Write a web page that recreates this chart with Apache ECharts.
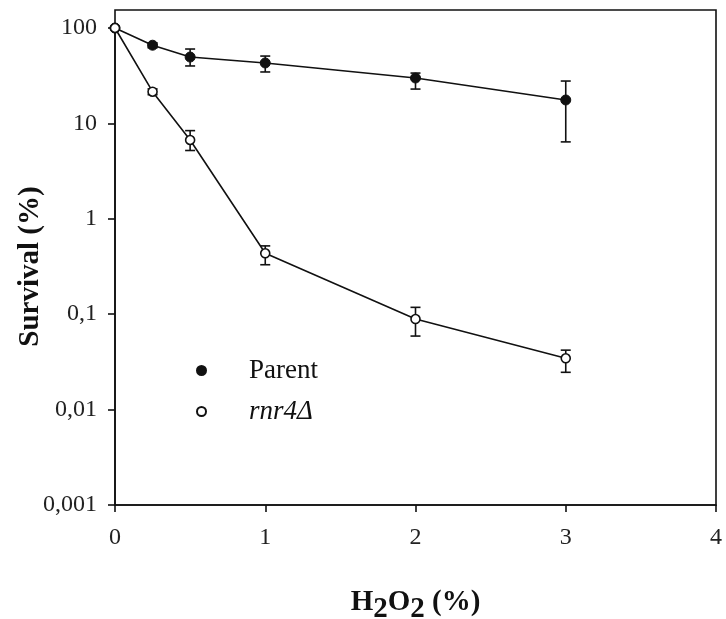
<!DOCTYPE html>
<html><head><meta charset="utf-8">
<script src="https://cdn.jsdelivr.net/npm/echarts@6/dist/echarts.min.js"></script>
<style>html,body{margin:0;padding:0;background:#fff}#c{width:726px;height:619px}</style>
</head><body><div id="c"></div>
<script>
var doses = [0, 0.25, 0.5, 1, 2, 3];
var parentMean = [100, 66, 49.6, 43, 29.9, 17.6];
var parentLow  = [100, 62, 40, 34.6, 22.9, 6.4];
var parentHigh = [100, 70, 60.2, 50.8, 33.7, 27.8];
var rnrMean = [100, 21.5, 6.7, 0.435, 0.089, 0.0345];
var rnrLow  = [100, 20, 5.2, 0.33, 0.059, 0.0246];
var rnrHigh = [100, 23, 8.4, 0.52, 0.118, 0.042];
var xTicks = [0, 1, 2, 3, 4];
var seriesNames = ['Parent', 'rnr4Δ'];

var FONT = '"Liberation Serif", "DejaVu Serif", serif';
function pts(m){ return doses.map(function(d,i){ return [d, m[i]]; }); }
function errs(lo, hi){ return doses.map(function(d,i){ return [d, lo[i], hi[i]]; }); }
function errRender(params, api){
  var x = api.value(0), lo = api.value(1), hi = api.value(2);
  if (lo === hi) return null;
  var pl = api.coord([x, lo]), ph = api.coord([x, hi]);
  var w = 5;
  var st = {stroke:'#111', lineWidth:1.6};
  return {type:'group', children:[
    {type:'line', shape:{x1:pl[0],y1:pl[1],x2:ph[0],y2:ph[1]}, style:st},
    {type:'line', shape:{x1:pl[0]-w,y1:pl[1],x2:pl[0]+w,y2:pl[1]}, style:st},
    {type:'line', shape:{x1:ph[0]-w,y1:ph[1],x2:ph[0]+w,y2:ph[1]}, style:st}
  ]};
}
var chart = echarts.init(document.getElementById('c'));
chart.setOption({
  backgroundColor:'#fff',
  animation:false,
  grid:{left:115, right:10, top:28, bottom:114, outerBoundsMode:'none', containLabel:false},
  graphic:[{type:'rect', shape:{x:115, y:10, width:601, height:495}, style:{fill:'none', stroke:'#111', lineWidth:1.6}, silent:true, z:0}],
  legend:{
    orient:'vertical', left:191, top:352, itemWidth:9, itemHeight:9, itemGap:14,
    textStyle:{fontFamily:FONT, fontSize:27, color:'#111', padding:[0,0,0,38]},
    data:[
      {name:seriesNames[0], icon:'circle'},
      {name:seriesNames[1], icon:'circle', textStyle:{fontStyle:'italic'}}
    ]
  },
  xAxis:{
    type:'value', min:xTicks[0], max:xTicks[xTicks.length-1], interval:1,
    axisLine:{lineStyle:{color:'#111', width:1.6}},
    axisTick:{show:true, inside:false, length:7, lineStyle:{color:'#111', width:1.6}},
    axisLabel:{fontFamily:FONT, fontSize:24, color:'#222', margin:21},
    splitLine:{show:false},
    name:'H{s|2}O{s|2} (%)', nameLocation:'middle', nameGap:76, nameMoveOverlap:false,
    nameTextStyle:{fontFamily:FONT, fontSize:29, fontWeight:'bold', color:'#111',
      rich:{s:{fontFamily:FONT, fontSize:29, fontWeight:'bold', color:'#111', padding:[14,0,0,0]}}}
  },
  yAxis:{
    type:'log', logBase:10, min:0.001, max:100,
    axisLine:{show:true, lineStyle:{color:'#111', width:1.6}},
    axisTick:{show:true, inside:false, length:7, lineStyle:{color:'#111', width:1.6}},
    axisLabel:{fontFamily:FONT, fontSize:24, color:'#222', margin:18,
      formatter:function(v){ return String(v).replace('.', ','); }},
    splitLine:{show:false},
    name:'Survival (%)', nameLocation:'middle', nameGap:70, nameRotate:90, nameMoveOverlap:false,
    nameTextStyle:{fontFamily:FONT, fontSize:29, fontWeight:'bold', color:'#111'}
  },
  series:[
    {type:'custom', renderItem:errRender, data:errs(parentLow, parentHigh), z:2, silent:true},
    {type:'custom', renderItem:errRender, data:errs(rnrLow, rnrHigh), z:2, silent:true},
    {name:seriesNames[0], type:'line', data:pts(parentMean), symbol:'circle', symbolSize:10,
      lineStyle:{color:'#111', width:1.6}, itemStyle:{color:'#111', borderColor:'#111', borderWidth:1}, z:3},
    {name:seriesNames[1], type:'line', data:pts(rnrMean), symbol:'circle', symbolSize:9,
      lineStyle:{color:'#111', width:1.6}, itemStyle:{color:'#fff', borderColor:'#111', borderWidth:1.6}, z:4}
  ]
});
</script></body></html>
